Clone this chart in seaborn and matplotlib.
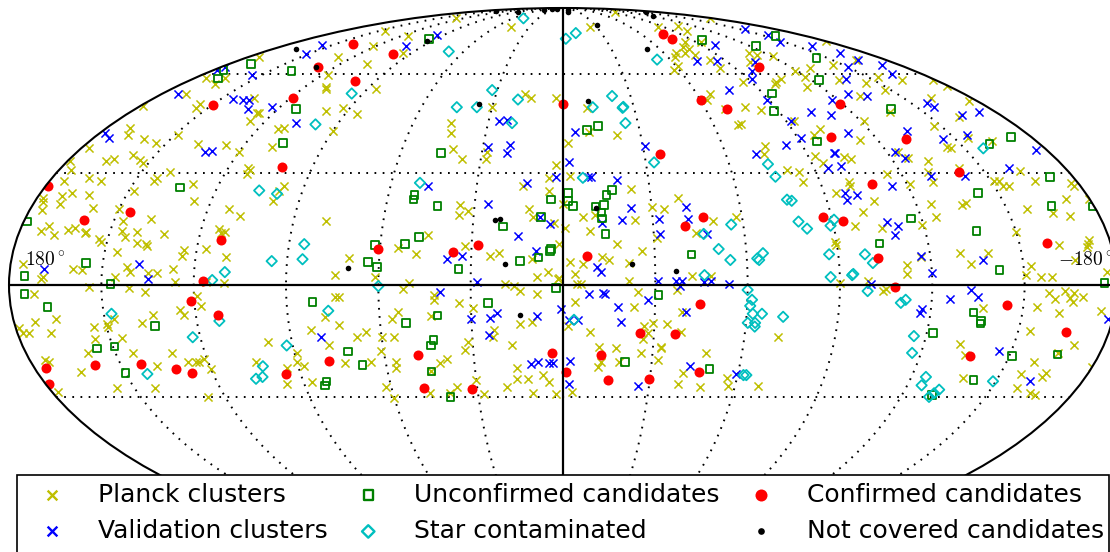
import numpy as np
import pandas as pd
import matplotlib
matplotlib.use('Agg')
import matplotlib.pyplot as plt
from matplotlib.patches import Rectangle
import seaborn as sns

# all positions are (galactic longitude, galactic latitude) in degrees,
# longitude runs from +180 on the left to -180 on the right
planck = [
    (174,66),(129,66),(106,63.5),(117,59.6),(109,55),(110,55.5),(93,49),(85,47),(99,48),(90,42),
    (175,58.7),(165,58.5),(164,56.5),(169,53.3),(156,50.3),(155,49),(136,52),(126,47.3),(127,47.5),(126,45),
    (110,43),(112,42.6),(109,37.5),(127,38),(120,36),(138,38.3),(149,41),(154,38.6),(160,39.6),(171,43),
    (168,40.8),(179,49.7),(177,37),(179,33.4),(164,34),(166,33.4),(158,35),(154,33.7),(152,32.8),(176,31),
    (175,27.9),(167,28.7),(162,27.9),(140,30.3),(143,28.7),(143.5,27.9),(113,31.5),(112,31),(112,29.8),(129,27),
    (148,25),(97,26.5),(98,25.2),(99,22.4),(126,22.4),(163,24),(169,24.5),(172,23.7),(171,21.6),(178,23.2),
    (177,22),(176,20),(159,20.5),(150,20.3),(147,17),(138,17.6),(113,20.3),(108.5,18.4),(79,17),(171,15.7),
    (173,14.3),(168,13.2),(164,14.6),(162,15),(158,14),(158,13.8),(153,12.2),(146,14.3),(144.5,12.7),(141,14),
    (132,13.5),(114,14.9),(112,14),(113,13.8),
    (152,11.3),(146,8.7),(140,11),(137,10.8),(136.5,10.2),(124,9.2),(124.5,7.6),(117,9.5),(110,7.3),(176,5.5),
    (159.5,4.2),(156.5,3.9),(142,4.7),(141,3.4),(145.5,2.1),(169.5,1.6),(169,2.1),(135,3.1),(132,3.1),(127,4.2),
    (126,.8),(154,-.5),(141,-.8),(136,-1.8),(172,-2.4),(110,.5),(116,.8),(70,7),(74,2.6),(74,-3.1),(73,-3.1),
    (119,-2.9),(118,-5.5),(125,-6.5),(124,-7.9),(134,-7.9),(138,-10),(147,-8.9),(149.5,-11),(149.5,-10.2),(154,-11),
    (166,-8.9),(173,-9.7),(179,-11.3),(178,-12.7),(176,-12.7),(169,-12.7),(155,-14.3),(146,-14),(159,-17.9),(144,-18),
    (131,-17.9),(174,-20.5),(175,-20),(165,-23.2),(138,-21.6),(127,-20.5),(124,-20.5),(123,-20.5),(121,-19.7),(120,-22.4),
    (178,-28.7),(156,-27.6),(143,-27.6),(126,-30),(104,-20.5),(98,-15),(94,-22),(96,-26.3),(89,-18),(90,-20.5),
    (88,-21.6),(83,-11.8),(78,-16),(87,-26),(78,-8.4),(73.5,-10.5),(68,-13.8),(65,-12.4),(74,-20.8),(65,-20.5),
    (54,9.7),(48,8.1),(32,10.2),(24,7.6),(21,8.4),(10,6.8),(1.3,10.8),(-2.3,6),(-6.5,5.5),(-4,2.9),
    (-12.8,7.3),(-15,6.6),(-17.7,10.8),(-26,8.9),(-21.5,5.8),(61,2.1),(50,.5),(52,-1),(42,-2.6),(42,-3.9),
    (19,.3),(16,-.3),(14,-1.6),(8.5,2.1),(5,3.4),(1.3,1.8),(1.5,1.6),(8.5,-2.4),(-21.5,1),(-4.6,.3),
    (-6,.3),(-24.5,-1.8),(-37,-1.3),(-42,2.4),(-48,2.4),(-4,-4.5),(34,-4.7),(29.5,-6),(43,-8.1),(54,-7),
    (56,-8.9),(14,-10.2),(10,-9.7),(-1.6,-10.8),(-9,-12.4),(-23,-5.8),(-29.5,-10),(-34,-10.2),(-26.5,-10.8),(-28,-12.7),
    (-26.5,-14.3),(-39,-12.4),(-39,-7),(22.6,-11.8),(23,-13.8),(60,-13.8),(56,-13.8),(61,-17.6),(56.5,-20.5),(57,-22),
    (31.4,-15.2),(32.6,-17.3),(17,-16),(39,-19.7),(41.6,-20.8),(45,-23),(15.6,-22),(16,-25),(12,-25),(7,-24),
    (5,-26),(19.5,-27.3),(62,-27.3),(30,-25.4),(37,-27.3),(40,-29),(47,-29),(60,-30.3),(28,-29.2),(10.6,-29),
    (2.5,-29.2),(-3,-28.7),(-12,-16.5),(-17.6,-16.8),(-13,-20.5),(-12,-21.8),(-19,-20.5),(-26,-17.9),(-32,-20),(-32.5,-16.3),
    (-32.6,-16.8),(-48,-18),(-41,-23.5),(-40,-26.5),(-48,-27.3),(-56.6,-24.8),(-57.6,-27),
    (129,82.5),(146,76.5),(115,74.2),(122,70.1),(95,67.3),(46,78),(-94,86),(-24,78),(-84,78),(-105,78.6),
    (-102,76.5),(-177,82.5),(-76,69.6),(-82,71.5),(-78,69),(-73,67.6),(-67,67.3),(-64,65.8),(-77,66.6),(-61,62.7),
    (-57,61.3),(-82,64.8),(-82,62),(-93,71.5),(86,55),(17,53.5),(14,52),(3,52),(30,49.4),(-10,49),
    (-66,53.5),(-63,51.5),(-68,48.7),(-69.5,43.8),(45,44.4),(43.5,41.4),(41,36.7),(37,34),(28,36),(28,34),
    (-10,41.7),(-21,41),(-2,38.6),(2.5,32.3),(5,28.7),(-2.5,29.2),(14,26.3),(5,25.2),(-23.5,25.7),(0,21.6),
    (35,21.3),(32,19.7),(35,18.6),(11.5,20.3),(10,18),(3,16.5),(-.7,15.2),(-6.7,17.9),(-10.7,18.6),(-9,14.3),
    (-30,20.8),(-34,20.3),(-39.5,23.2),(-24,17.3),(-50,17),(-58,18),(44.5,13.2),(-31,12.4),(-44,13.8),
    (-179,71.9),(-111,67.6),(-113,66.6),(-121,66.2),(-102,64),(-86,57.4),(-119,61),(-119,59),(-129,62),(-144,63),
    (-163,64.8),(-155,59),(-164,58),(-179,58),(-179,55.8),(-106,58.4),(-102,57.4),(-100,56.6),(-113,55.5),(-133.5,58),
    (-144,57),(-147,54.6),(-132,52.7),(-162,52),(-176,51),(-77,49.2),(-83,48.2),(-136,47.6),(-121.5,45),(-93,45),
    (-147,43.5),(-162,46.3),(-71,44),(-101,42.6),(-97,40.8),(-113,39.3),(-144,37.5),(-145,37),(-155,39.9),(-163,39),
    (-76,37.8),(-74,35.3),(-92.6,34.7),(-94,32.8),(-103,34.5),(-105,34),(-124,36),(-126,34.2),(-132.5,33.4),(-80,31),
    (-84,30.3),(-84,27.6),(-115,29.8),(-130,30.3),(-129.5,27.6),(-142,31.5),(-100,27.6),(-100,26.5),(-94,24.5),(-121,27),
    (-106,22.4),(-101,19.4),(-97,15.5),(-106,15.2),(-119.5,16),(-125,17.9),(-125,21.6),(-135.5,21.3),(-137,21.9),(-151,27.9),
    (-153,27.9),(-153,26.5),(-155,26.3),(-163,30.7),(-165.5,27.9),(-177.6,27.3),(-178,26.5),(-180,23),(-172,23),(-157,20.3),
    (-165,19.2),(-170,18.4),(-150,14),(-173,11.8),
    (-89.5,10.5),(-89.5,11.5),(-130,8.4),(-133,5.5),(-139,8.4),(-112,5.2),(-112,2.9),(-117,7.3),(-163,10.5),(-172.5,10.8),
    (-172,10),(-152.5,5),(-150.5,2.6),(-155.5,2.1),(-159,2.1),(-167,6.6),(-177,3.4),(-90,.5),(-99,1),(-104,-1.6),
    (-105,-1),(-137,-6),(-158,-2.1),(-160,-3.7),(-163,-1.6),(-166,-2.1),(-165,-3.4),(-166,-4.5),(-169,-3.1),(-154.5,-5.8),
    (-162,-7.3),(-175.7,-6.8),(-154,-12.2),(-71,-13.8),(-132,-15.7),(-135,-18.6),(-170,-16),(-166,-17.9),(-159.5,-20.5),(-157,-23.7),
    (-165,-24.5),(-165.5,-23.5),(-159,-27.6),(-165,-29),(-167,-29.5),(-138,-24.8),(-180,-21.8),(-68,-27),
]

validation = [
    (178,61.3),(178,62.3),(173,53.5),(155,59.6),(151,67),(157,70.5),(145,51.9),(140,51.6),(137,51.3),(132.5,48.7),
    (123.5,49.4),(107,44.4),(178,41.4),(174,39.9),(132.5,36),(130.5,36.3),(169,4.2),(138,5.5),(135,1.6),(80,-13.8),
    (101,70.1),(95,74.6),(25.7,45),(22.6,45.3),(28,37.4),(20,38),(20.7,35.6),(-4.7,41.7),(-2,33),(2.5,29),
    (47,26.5),(12.6,27.3),(-9,29),(-10,29),(-19,28.2),(-31,37.8),(25.4,21.6),(7.7,18),(4.3,16.2),(-13,16.5),
    (-19.6,17.3),(-23,20.5),(-32,17.6),(-32,13.5),(-41.6,20.8),(-41.8,17.6),(15,12.9),(-47.5,13.5),(-74,64.5),(-99,70.5),
    (-85,64.5),(-76,54.6),
    (-153,77),(-155,74.6),(-146,71.5),(-160,70.1),(-164,67.3),(-165,65),(-150,62.3),(-170.6,63),(-165,60),(-105,64),
    (-97,61),(-92,58.4),(-138,58.4),(-128,53.5),(-89,51.3),(-135,52.7),(-117.6,51.5),(-110,46.7),(-103,47.6),(-92,45),
    (-91,39.9),(-84,38),(-71,35.3),(-110.6,41.4),(-100,35.6),(-100.5,35.8),(-100,32),(-95,31.5),(-157,50.6),(-157,49.2),
    (-164,46.7),(-173,47.6),(-134.5,42),(-145,39.6),(-156,40.8),(-176,36.4),(-123,36),(-125,34.2),(-160,31.5),(-142,29.2),
    (-130,29.2),(-114.5,26.5),(-97,24.5),(-97,22.7),(-101,24),(-108,16.8),(-111.5,15.5),(-109.6,13.2),
    (38,6.8),(33,7.6),(28,.8),(40,-1.8),(9,8.9),(.7,-6.3),(30,-8.9),(24,-8.7),(21.6,-7.3),(8.5,-8.1),
    (24.4,-13.2),(-2,-9.2),(-5,-9.2),(-8.5,-2.4),(-13,-2.1),(-13.5,-2.3),(-11,4.7),(-12.4,3.4),(-18,-5.8),(-19,-9.7),
    (-27.5,-3.9),(-31,1),(-36.6,1),(-38.6,1),(-38,-.3),(-45.8,.8),(-48,1),(-54,.3),(-40,-7),(10.8,-21),
    (8.5,-20.5),(4.7,-20.8),(3.4,-20.8),(-2.4,-20.3),(-2,-26.5),(-26,-27),(-43,-21.6),(-59.5,-23.7),
    (-117,7.6),(-137,6.6),(-120,3.1),(-100,.3),(-132.5,-1.3),(-126,-3.7),(-135,-3.1),(-117,-6.3),(-116.6,-7.3),(-146,-17.6),
    (-162,-25.7),(-178.5,-8.9),
]

unconfirmed = [
    (179,16.8),(133,26),(168,58.4),(175,61.3),(168,63.4),(139,61),(112.5,48.7),(106,38.6),
    (95,73),(45,35.6),(-9.4,42.3),(-14,43.5),(51,24),(51,22.7),(42.6,21),(47.5,12.7),(4,22.7),(-1.7,24.5),(-1.7,22.4),(-3.4,21),
    (-17,25.4),(-15,24),(-14,21.3),(-11,20.8),(-13,19.2),(-13,17.6),(-14,13.5),(7.4,18),(20,15.5),(-97,72.5),
    (-158,74.2),(-124,70.1),(-143.5,65.5),(-124,58),(-94,53.5),(-88,48),(-96.5,39),(-138,48.7),(-161,38.3),(-172,40.2),
    (-172,29),(-143,24.5),(-116.5,17.6),(-137,14.3),(-165.6,21),(-179.5,20.8),(-104,11),
    (155.5,5.8),(175,2.4),(175,-2.4),(147,.3),(168,-5.8),(134,-10.8),(155.5,-16.8),(149.4,-16.3),(150,-23.5),(81.5,-4.5),
    (72,-17.6),(68,-21.3),(82,-25.7),(83,-26.8),(63.6,6),
    (61.7,10.5),(52,10.8),(34,4.2),(14,6.3),(8,7.3),(4,9.5),(4.3,9),(60.6,4.7),(2.3,-.8),(24.5,-4.7),
    (41,-8.1),(51.5,-10),(43,-14.6),(44,-16),(45,-23),(40,-30),(-31,-2.6),(-42,8.1),(-21,-20.5),(-50,-22.4),
    (-142,3.9),(-176,.5),(-134,-7.3),(-137,-9.5),(-137,-10.2),(-122,-12.7),(-151,-18.9),(-166,-18.4),(-142,-25.4),(-130.6,-29.5),
]

star = [
    (95,53.5),(98.7,44),(105,25.2),(98.4,24.3),
    (47.6,82.5),(69,68),(-2,73),(-10,75.4),(-52.6,65),(32.4,54.6),(19.7,51.6),(45,49.2),(36.5,49.2),(20.4,44.4),
    (-21.8,52.7),(-12.6,49.2),(-25.2,49),(-25.6,49.3),(-25,44.4),(-33,33),(50,27.3),(-7,28.7),(-56,16),(-46.5,13.5),
    (-157,37),(-74,32.5),(-75,29),(-76.5,22.7),(-78,22.4),(-78.6,16.8),(-81,14.9),(-90.6,17.3),(-89,15.7),
    (85,10.8),(85,6.8),(95,6.3),(110,3.4),(114,1.3),(147.5,-7.6),(112.6,-9.5),(122.5,-13.8),(76.6,-6.8),(92,-16),
    (102,-21.6),(103.5,-24.5),(106,-25),(142.6,-23.7),
    (60,-.3),(-51,9.5),(-54.6,6.6),(-46,2.6),(-3.6,-9.2),
    (-65.4,8.4),(-63.4,7),(-64,6.6),(-87,8.1),(-98.7,8.1),(-101,5.8),(-87,2.1),(-94,2.6),(-94.4,2.9),(-60,-1.3),
    (-61.5,-3.9),(-61,-5.5),(-62,-7.6),(-65,-7.6),(-60.6,-10),(-63,-10),(-63,-11),(-72,-8.4),(-99,-1.6),(-111.5,-3.9),
    (-110,-4.7),(-116,-13.5),(-117,-18),(-125,-24.5),(-125,-26.8),(-132,-28),(-131,-29),(-130,-30),(-149,-25.7),(-63,-24),
    (-62,-24),
]

confirmed = [
    (179,26.3),(160,17.3),(146,19.4),(150,50),(119,52),(129,62.3),(139,71),(100,57.7),(101,31.8),(112.5,11.8),
    (100,67),(0,50.3),(-76.5,75),(-77.5,73),(-60,51.3),(-69,48.7),(-35.6,35.3),(-47,17.9),(-40.5,15.5),
    (-103,62.3),(-119,50.3),(-103,40.2),(-131,39.6),(-141,30.3),(-108,27),(-87,18),(-93.6,17),(-159,11),
    (176,-22),(179,-26.5),(159,-21.3),(143,-21),(132,-22.4),(127,-23.5),(117,1),(121,-4.2),(112.6,-7.9),(95,-23.7),
    (79,-20.3),(60.6,9.5),(36,8.7),(28,10.5),(48.6,-18.6),(48.5,-27.6),(32,-27.9),(3.7,-17.9),(-1,-23.2),(-8,7.6),
    (-25.4,-12.7),(-37,-12.9),(-44.5,-5),(-12.7,-18.6),(-15.5,-25.4),(-29.7,-25),(-46.7,-23.2),
    (-102.7,7),(-108,-.5),(-144.5,-5.2),(-165.7,-12.4),(-137,-18.9),
]

not_covered = [
    (166,69),(130,62.3),(147,87),(89,86.5),(54,88),(49,89),(27,89),(-13.5,88),(-8.6,86),(-152,86),
    (-125,84),(93,72),(-32,79),(-52,69),(36,50.3),(-11,51),(22.6,17.3),(21,17.6),(-11,20.5),
    (70,4.5),(19,5.5),(-22.5,5.5),(-36.6,3.7),(14,-7.9),
]

series = [
    (planck, 'Planck clusters', 'x', 'y', 34),
    (validation, 'Validation clusters', 'x', 'b', 34),
    (unconfirmed, 'Unconfirmed candidates', 's', 'g', 30),
    (star, 'Star contaminated', 'D', 'c', 28),
    (confirmed, 'Confirmed candidates', 'o', 'r', 52),
    (not_covered, 'Not covered candidates', 'o', 'k', 16),
]

sns.set_style('white')
plt.rcParams['mathtext.fontset'] = 'cm'
plt.rcParams['text.color'] = 'k'

fig = plt.figure(figsize=(11.1, 5.52), dpi=100)
ax = fig.add_axes([8 / 1110, -10 / 552, 1.0, 554 / 552], projection='mollweide')

for points, name, mark, col, size in series:
    df = pd.DataFrame(points, columns=['lon', 'lat'])
    df['x'] = -np.radians(df['lon'])
    df['y'] = np.radians(df['lat'])
    if mark in ('s', 'D'):
        sns.scatterplot(data=df, x='x', y='y', marker=mark, s=size, facecolor='none',
                        edgecolor=col, linewidth=1.3, label=name, legend=False, ax=ax)
    elif mark == 'x':
        sns.scatterplot(data=df, x='x', y='y', marker=mark, s=size, color=col,
                        linewidth=1.1, label=name, legend=False, ax=ax)
    else:
        sns.scatterplot(data=df, x='x', y='y', marker=mark, s=size, color=col,
                        linewidth=0, label=name, legend=False, ax=ax)

ax.set_xlabel('')
ax.set_ylabel('')
ax.set_longitude_grid(30)
ax.set_latitude_grid(30)
ax.set_longitude_grid_ends(89)
ax.set_xticklabels([])
ax.set_yticklabels([])
ax.grid(True, color='k', linestyle=(0, (0.9, 3.3)), linewidth=1.4)
ax.spines['geo'].set_linewidth(1.5)
ax.spines['geo'].set_edgecolor('k')

# solid equator and central meridian
ax.plot([-np.pi, np.pi], [0, 0], color='k', lw=1.6, zorder=1)
ax.plot([0, 0], [-np.pi / 2, np.pi / 2], color='k', lw=1.6, zorder=1)

fig.text(25 / 1110, 1 - 260 / 552, r'$180^\circ$', fontsize=14, va='center', ha='left', color='k')
fig.text(1058 / 1110, 1 - 260 / 552, r'$-180^\circ$', fontsize=14, va='center', ha='left', color='k')

# legend box runs off the bottom of the figure
box = Rectangle((17 / 1110, -0.05), (1108.5 - 17) / 1110, 1.05 - 475 / 552, transform=fig.transFigure,
                facecolor='w', edgecolor='k', linewidth=1.2, zorder=9)
fig.add_artist(box)

handles, labels = ax.get_legend_handles_labels()
leg = fig.legend(handles, labels, ncol=3, loc='upper left',
                 bbox_to_anchor=(19 / 1110, 1 - 475 / 552), borderaxespad=0,
                 fontsize=18, frameon=False, markerscale=1.2, scatterpoints=1,
                 labelcolor='k', handletextpad=0.85, columnspacing=0.63,
                 labelspacing=0.5, borderpad=0.3)
leg.set_zorder(10)
for h in leg.legend_handles[:4]:
    h.set_linewidth(1.7)

fig.savefig('out.png', dpi=100)
